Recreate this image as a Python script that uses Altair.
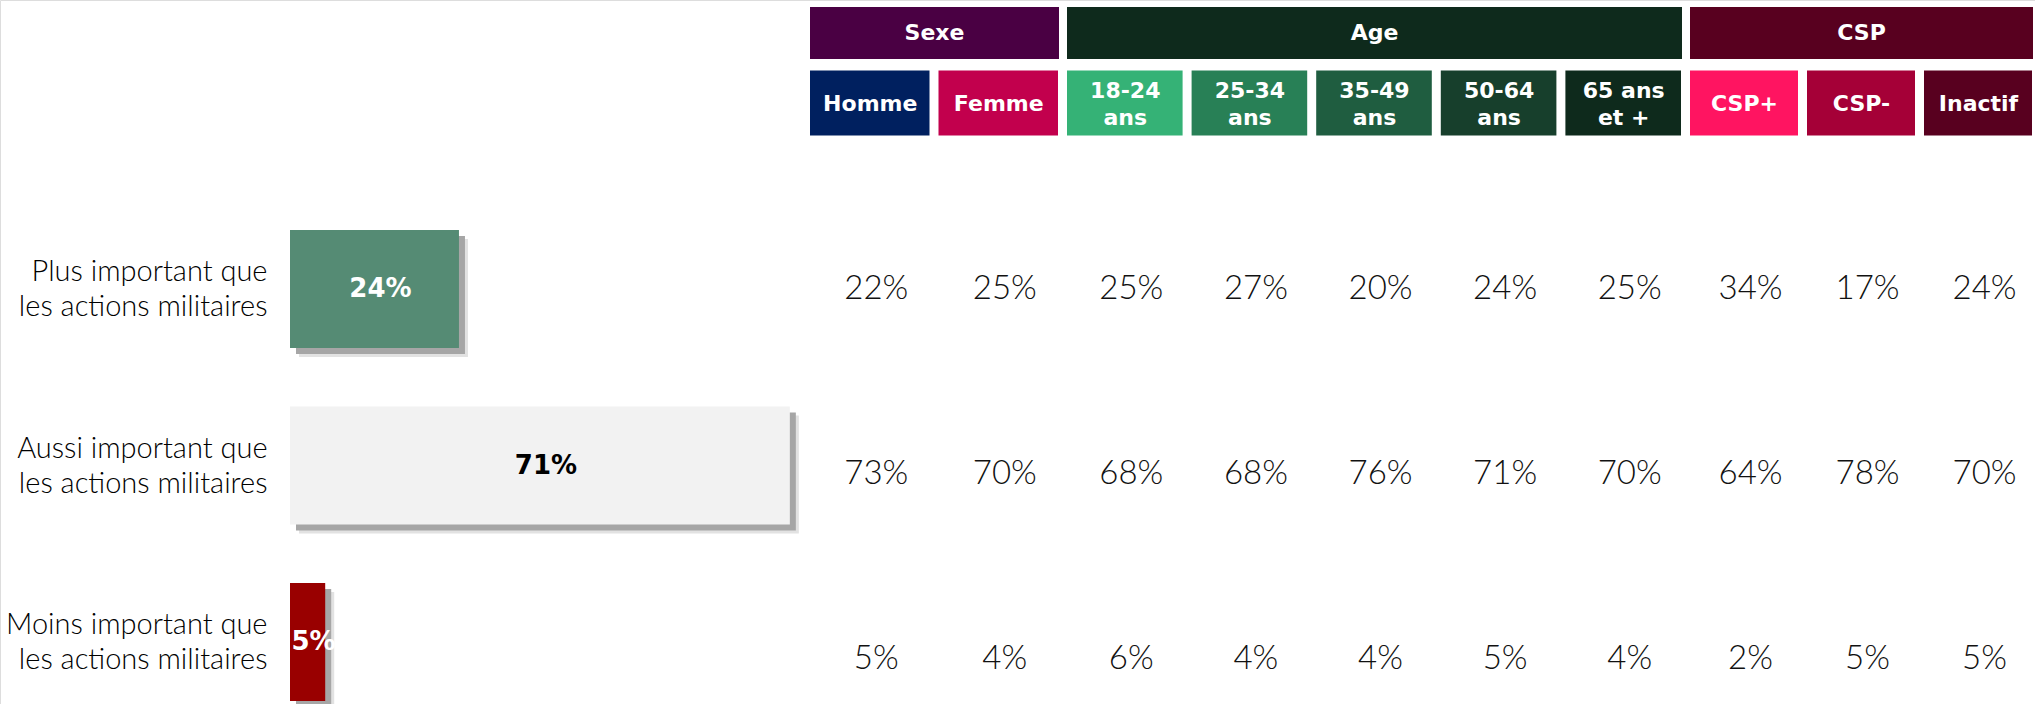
import altair as alt
import pandas as pd

# ---------------- data ----------------
groups = ["Sexe", "Age", "CSP"]
group_sizes = [2, 5, 3]
columns = ["Homme", "Femme", "18-24\nans", "25-34\nans", "35-49\nans",
           "50-64\nans", "65 ans\net +", "CSP+", "CSP-", "Inactif"]
rows = ["Plus important que\nles actions militaires",
        "Aussi important que\nles actions militaires",
        "Moins important que\nles actions militaires"]
totals = [24, 71, 5]
plus_values = [22, 25, 25, 27, 20, 24, 25, 34, 17, 24]
aussi_values = [73, 70, 68, 68, 76, 71, 70, 64, 78, 70]
moins_values = [5, 4, 6, 4, 4, 5, 4, 2, 5, 5]

# ---------------- styles ----------------
group_colors = ["#4a0043", "#0e2a1c", "#58001f"]
column_colors = ["#00205f", "#c2004d", "#35b276", "#288056", "#1f5d40",
                 "#173f2c", "#0e2a1c", "#ff1461", "#a50037", "#58001f"]
bar_colors = ["#558b74", "#f2f2f2", "#990000"]
bar_text_colors = ["#ffffff", "#000000", "#ffffff"]
LIGHT = "Lato"
BOLD = "DejaVu Sans"

# ---------------- tables ----------------
starts = [sum(group_sizes[:i]) for i in range(len(group_sizes))]
ends = [s + n for s, n in zip(starts, group_sizes)]
grp_df = pd.DataFrame({"group": groups, "start": starts, "end": ends,
                       "level": ["grp"] * len(groups)})
grp_df["mid"] = (grp_df["start"] + grp_df["end"]) / 2

col_df = pd.DataFrame({"column": columns, "idx": list(range(len(columns))),
                       "level": ["sub"] * len(columns)})
col_df["end"] = col_df["idx"] + 1
col_df["mid"] = col_df["idx"] + 0.5
col_df["lines"] = col_df["column"].str.count("\n") + 1

vals = []
for r, series in zip(rows, [plus_values, aussi_values, moins_values]):
    for i, v in enumerate(series):
        vals.append({"row": r, "idx": i, "value": v})
val_df = pd.DataFrame(vals)
val_df["mid"] = val_df["idx"] + 0.5
val_df["label"] = val_df["value"].astype(str) + "%"

bar_df = pd.DataFrame({"row": rows, "total": totals})
bar_df["half"] = bar_df["total"] / 2
bar_df["label"] = bar_df["total"].astype(str) + "%"

# ---------------- scales ----------------
domain_pts = [0] + ends
xs_table = alt.Scale(type="linear", domain=domain_pts, range=[810, 1067, 1690, 2041])
ys_head = alt.Scale(type="band", domain=["grp", "sub"], range=[-2, 138],
                    paddingInner=0, paddingOuter=0)
ys_vals = alt.Scale(type="point", domain=rows, range=[288.5, 658.5], padding=0)
xs_bar = alt.Scale(domain=[0, 100], range=[290, 994])
ys_bar = alt.Scale(type="band", domain=rows, range=[200.75, 730.25],
                   paddingInner=0, paddingOuter=0)

# ---------------- header ----------------
grp_rect = alt.Chart(grp_df).mark_bar(height=52, x2Offset=-8).encode(
    x=alt.X("start:Q", scale=xs_table, axis=None),
    x2="end:Q",
    y=alt.Y("level:N", scale=ys_head, axis=None),
    color=alt.Color("group:N", scale=alt.Scale(domain=groups, range=group_colors), legend=None),
)
grp_text = alt.Chart(grp_df).mark_text(font=BOLD, fontWeight="bold", fontSize=22,
                                        color="white", dx=-4, baseline="middle").encode(
    x=alt.X("mid:Q", scale=xs_table, axis=None),
    y=alt.Y("level:N", scale=ys_head, axis=None),
    text="group:N",
)
col_rect = alt.Chart(col_df).mark_bar(height=65, x2Offset=-9).encode(
    x=alt.X("idx:Q", scale=xs_table, axis=None),
    x2="end:Q",
    y=alt.Y("level:N", scale=ys_head, axis=None),
    color=alt.Color("column:N", scale=alt.Scale(domain=columns, range=column_colors), legend=None),
)
col_text_one = alt.Chart(col_df).transform_filter("datum.lines == 1").mark_text(
    font=BOLD, fontWeight="bold", fontSize=22, color="white", dx=-4, dy=1,
    baseline="middle").encode(
    x=alt.X("mid:Q", scale=xs_table, axis=None),
    y=alt.Y("level:N", scale=ys_head, axis=None),
    text="column:N",
)
col_text_two = alt.Chart(col_df).transform_filter("datum.lines == 2").mark_text(
    font=BOLD, fontWeight="bold", fontSize=22, color="white", dx=-4, dy=-12,
    baseline="middle", lineBreak="\n", lineHeight=27).encode(
    x=alt.X("mid:Q", scale=xs_table, axis=None),
    y=alt.Y("level:N", scale=ys_head, axis=None),
    text="column:N",
)

# ---------------- values table ----------------
val_text = alt.Chart(val_df).mark_text(font=LIGHT, fontWeight=300, fontSize=33,
                                        color="#111111", dx=2, baseline="middle").encode(
    x=alt.X("mid:Q", scale=xs_table, axis=None),
    y=alt.Y("row:N", scale=ys_vals, axis=None),
    text="label:N",
)

# ---------------- bars ----------------
shadow_light = alt.Chart(bar_df).mark_bar(height=118, color="#e2e2e2",
                                          xOffset=9, x2Offset=9, yOffset=9).encode(
    x=alt.X("total:Q", scale=xs_bar, axis=None),
    y=alt.Y("row:N", scale=ys_bar, axis=None),
)
shadow_dark = alt.Chart(bar_df).mark_bar(height=118, color="#a6a6a6",
                                         xOffset=6, x2Offset=6, yOffset=6).encode(
    x=alt.X("total:Q", scale=xs_bar, axis=None),
    y=alt.Y("row:N", scale=ys_bar, axis=None),
)
bars = alt.Chart(bar_df).mark_bar(height=118).encode(
    x=alt.X("total:Q", scale=xs_bar, axis=None),
    y=alt.Y("row:N", scale=ys_bar,
            axis=alt.Axis(orient="left", offset=-267, labelPadding=0, ticks=False,
                          domain=False, grid=False, title=None, labelOffset=-17,
                          labelFont=LIGHT, labelFontWeight=300, labelFontSize=29,
                          labelColor="#000000", labelLineHeight=35, labelLimit=0,
                          labelExpr="split(datum.value, '\\n')")),
    color=alt.Color("row:N", scale=alt.Scale(domain=rows, range=bar_colors), legend=None),
)
bar_text = alt.Chart(bar_df).mark_text(font=BOLD, fontWeight="bold", fontSize=26,
                                        dx=6, baseline="middle").encode(
    x=alt.X("half:Q", scale=xs_bar, axis=None),
    y=alt.Y("row:N", scale=ys_bar, axis=None),
    text="label:N",
    color=alt.Color("row:N", scale=alt.Scale(domain=rows, range=bar_text_colors), legend=None),
)

chart = alt.layer(
    shadow_light, shadow_dark, bars, bar_text,
    grp_rect, grp_text, col_rect, col_text_one, col_text_two, val_text,
).resolve_scale(x="independent", y="independent", color="independent").properties(
    width=2035, height=704, padding=0,
    autosize=alt.AutoSizeParams(type="none"),
).configure_view(stroke=None).configure(background="white")

chart.save("out.html", embed_options={"renderer": "svg", "actions": False})
